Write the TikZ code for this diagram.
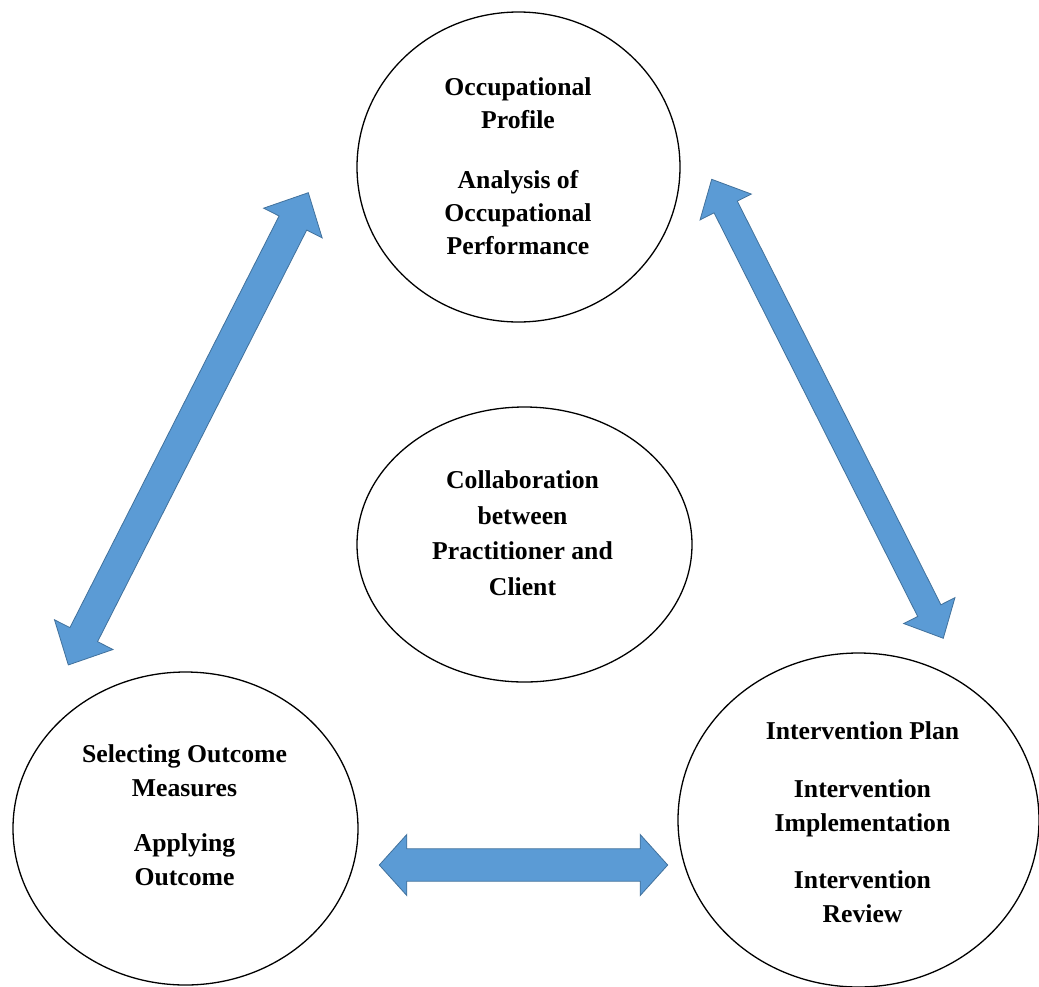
\documentclass[tikz,border=0pt]{standalone}
\usepackage{fontspec}
\setmainfont{Liberation Serif}
\usetikzlibrary{calc,shapes.geometric}
\definecolor{arrfill}{RGB}{91,155,213}
\definecolor{arrline}{RGB}{65,113,156}
\newcommand\blockdbl[5]{%
  \path let \p1=($(#2)-(#1)$) in \pgfextra{%
    \pgfmathsetmacro\bdangtmp{atan2(\y1,\x1)}%
    \pgfmathsetmacro\bdlentmp{veclen(\x1,\y1)}%
    \xdef\bdang{\bdangtmp}\xdef\bdlen{\bdlentmp}};
  \draw[arrowsty, shift={(#1)}, rotate=\bdang]
    (0,0) -- (#5,#4) -- (#5,#3) -- (\bdlen-#5,#3) -- (\bdlen-#5,#4) -- (\bdlen,0)
    -- (\bdlen-#5,-#4) -- (\bdlen-#5,-#3) -- (#5,-#3) -- (#5,-#4) -- cycle;
}
\tikzset{
  ell/.style={ellipse, draw=black, line width=1.3pt, inner sep=0pt},
  txt/.style={align=center, inner sep=0pt, font=\bfseries\fontsize{25.7}{33}\selectfont},
  arrowsty/.style={fill=arrfill, draw=arrline, line width=0.8pt, line join=miter}
}
\begin{document}
\begin{tikzpicture}[x=1pt,y=-1pt]
\fill[white] (0,0) rectangle (1039,986);
\useasboundingbox (0,0) rectangle (1039,986);

% circles
\node[ell, minimum width=323pt, minimum height=310pt] (topc) at (518.5,167) {};
\node[ell, minimum width=335pt, minimum height=275pt] (midc) at (524.5,544.5) {};
\node[ell, minimum width=345pt, minimum height=313pt] (leftc) at (185.5,828.5) {};
\node[ell, minimum width=361pt, minimum height=334pt] (rightc) at (858.5,820) {};

% texts
\node[txt] (topt) at (518,166) {Occupational\\Profile\\[27pt]Analysis of\\Occupational\\Performance};
\node[txt, font=\bfseries\fontsize{25.7}{35.6}\selectfont] (midt) at (522.5,533) {Collaboration\\between\\Practitioner and\\Client};
\node[txt, font=\bfseries\fontsize{25.7}{34}\selectfont] (leftt) at (184.5,815.5) {Selecting Outcome\\Measures\\[21pt]Applying\\Outcome};
\node[txt, font=\bfseries\fontsize{25.7}{33.5}\selectfont] (rightt) at (862.5,822) {Intervention Plan\\[25pt]Intervention\\Implementation\\[24pt]Intervention\\Review};

% arrows
\coordinate (lA) at (308.3,192.7);
\coordinate (lB) at (68.3,665);
\coordinate (rA) at (711.7,179.3);
\coordinate (rB) at (943.3,638.3);
\coordinate (bA) at (379.3,865);
\coordinate (bB) at (667.7,865);
\blockdbl{lA}{lB}{15.5}{32.8}{34}
\blockdbl{rA}{rB}{13}{28.7}{31}
\blockdbl{bA}{bB}{16.2}{30.5}{27.5}
\end{tikzpicture}
\end{document}
